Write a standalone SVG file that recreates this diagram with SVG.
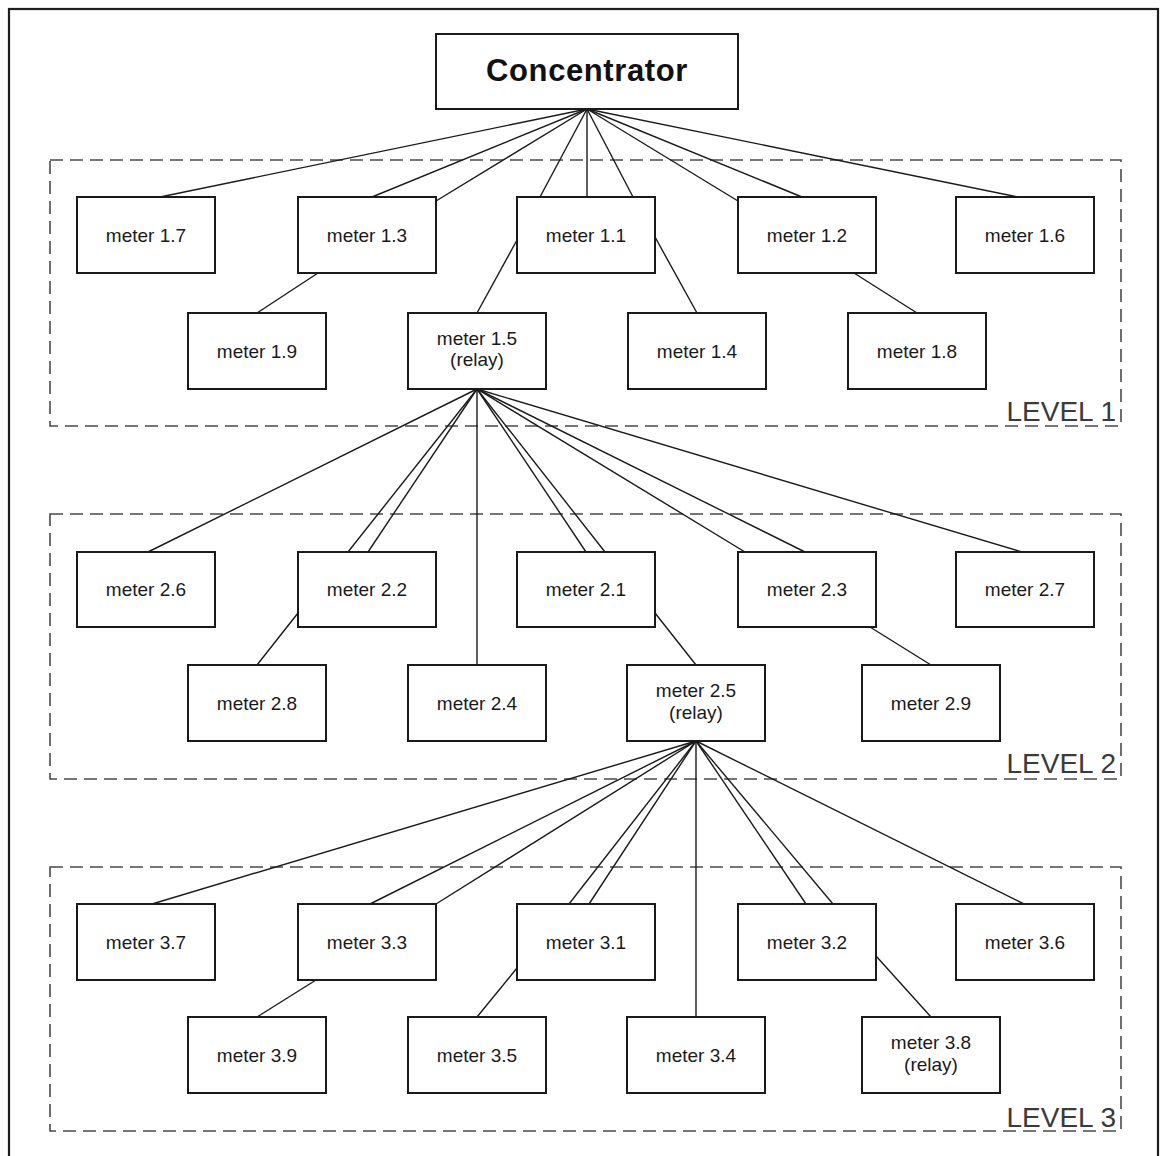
<svg xmlns="http://www.w3.org/2000/svg" width="1160" height="1156" viewBox="0 0 1160 1156">
  <style>
    .frame { fill: none; stroke: #1e1e1e; stroke-width: 2.2; }
    .level { fill: none; stroke: #4a4a4a; stroke-width: 1.6; stroke-dasharray: 13 7; }
    .level-label { font-family: "Liberation Sans", Arial, sans-serif; font-size: 28px; fill: #3a3a3a; text-anchor: end; }
    .box { fill: #ffffff; stroke: #1a1a1a; stroke-width: 2; }
    .label { font-family: "Liberation Sans", Arial, sans-serif; font-size: 19px; fill: #1a1a1a; text-anchor: middle; }
    .title { font-family: "Liberation Sans", Arial, sans-serif; font-size: 31px; font-weight: bold; fill: #111111; text-anchor: middle; letter-spacing: 0.6px; }
    .links line { stroke: #1a1a1a; stroke-width: 1.4; }
  </style>

  <rect width="1160" height="1156" fill="#ffffff"/>
  <!-- outer frame, open past the bottom edge -->
  <rect class="frame" x="9" y="9" width="1149" height="1160"/>

  <!-- level regions -->
  <g id="level-1">
    <rect class="level" x="50" y="160" width="1071" height="266"/>
    <text class="level-label" x="1116" y="421">LEVEL 1</text>
  </g>
  <g id="level-2">
    <rect class="level" x="50" y="514" width="1071" height="265"/>
    <text class="level-label" x="1116" y="773">LEVEL 2</text>
  </g>
  <g id="level-3">
    <rect class="level" x="50" y="867" width="1071" height="264"/>
    <text class="level-label" x="1116" y="1127">LEVEL 3</text>
  </g>

  <!-- connectors -->
  <g id="connectors" class="links">
    <!-- concentrator fan-out -->
    <line x1="587" y1="109" x2="160" y2="197"/>
    <line x1="587" y1="109" x2="372" y2="197"/>
    <line x1="587" y1="109" x2="436" y2="201"/>
    <line x1="587" y1="109" x2="540" y2="197"/>
    <line x1="587" y1="109" x2="587" y2="197"/>
    <line x1="587" y1="109" x2="633" y2="197"/>
    <line x1="587" y1="109" x2="738" y2="201"/>
    <line x1="587" y1="109" x2="802" y2="197"/>
    <line x1="587" y1="109" x2="1018" y2="197"/>
    <!-- level 1 internal -->
    <line x1="318" y1="273" x2="257" y2="313"/>
    <line x1="517" y1="240" x2="477" y2="313"/>
    <line x1="655" y1="237" x2="697" y2="313"/>
    <line x1="854" y1="273" x2="917" y2="313"/>
    <!-- relay 1.5 fan-out -->
    <line x1="477" y1="389" x2="148" y2="552"/>
    <line x1="477" y1="389" x2="348" y2="552"/>
    <line x1="477" y1="389" x2="368" y2="552"/>
    <line x1="477" y1="389" x2="477" y2="665"/>
    <line x1="477" y1="389" x2="586" y2="552"/>
    <line x1="477" y1="389" x2="605" y2="552"/>
    <line x1="477" y1="389" x2="745" y2="552"/>
    <line x1="477" y1="389" x2="805" y2="552"/>
    <line x1="477" y1="389" x2="1022" y2="552"/>
    <!-- level 2 internal -->
    <line x1="298" y1="613" x2="257" y2="665"/>
    <line x1="655" y1="613" x2="696" y2="665"/>
    <line x1="870" y1="627" x2="931" y2="665"/>
    <!-- relay 2.5 fan-out -->
    <line x1="696" y1="741" x2="152" y2="904"/>
    <line x1="696" y1="741" x2="370" y2="904"/>
    <line x1="696" y1="741" x2="436" y2="904"/>
    <line x1="696" y1="741" x2="569" y2="904"/>
    <line x1="696" y1="741" x2="589" y2="904"/>
    <line x1="696" y1="741" x2="696" y2="1017"/>
    <line x1="696" y1="741" x2="806" y2="904"/>
    <line x1="696" y1="741" x2="833" y2="904"/>
    <line x1="696" y1="741" x2="1024" y2="904"/>
    <!-- level 3 internal -->
    <line x1="316" y1="980" x2="257" y2="1017"/>
    <line x1="517" y1="968" x2="477" y2="1017"/>
    <line x1="876" y1="956" x2="931" y2="1017"/>
  </g>

  <!-- concentrator -->
  <g id="concentrator">
    <rect class="box" x="436" y="34" width="302" height="75"/>
    <text class="title" x="587" y="81">Concentrator</text>
  </g>

  <!-- level 1 meters -->
  <g id="meter-1-7"><rect class="box" x="77" y="197" width="138" height="76"/><text class="label" x="146" y="242">meter 1.7</text></g>
  <g id="meter-1-3"><rect class="box" x="298" y="197" width="138" height="76"/><text class="label" x="367" y="242">meter 1.3</text></g>
  <g id="meter-1-1"><rect class="box" x="517" y="197" width="138" height="76"/><text class="label" x="586" y="242">meter 1.1</text></g>
  <g id="meter-1-2"><rect class="box" x="738" y="197" width="138" height="76"/><text class="label" x="807" y="242">meter 1.2</text></g>
  <g id="meter-1-6"><rect class="box" x="956" y="197" width="138" height="76"/><text class="label" x="1025" y="242">meter 1.6</text></g>
  <g id="meter-1-9"><rect class="box" x="188" y="313" width="138" height="76"/><text class="label" x="257" y="358">meter 1.9</text></g>
  <g id="meter-1-5"><rect class="box" x="408" y="313" width="138" height="76"/><text class="label" x="477" y="345">meter 1.5</text><text class="label" x="477" y="366">(relay)</text></g>
  <g id="meter-1-4"><rect class="box" x="628" y="313" width="138" height="76"/><text class="label" x="697" y="358">meter 1.4</text></g>
  <g id="meter-1-8"><rect class="box" x="848" y="313" width="138" height="76"/><text class="label" x="917" y="358">meter 1.8</text></g>

  <!-- level 2 meters -->
  <g id="meter-2-6"><rect class="box" x="77" y="552" width="138" height="75"/><text class="label" x="146" y="596">meter 2.6</text></g>
  <g id="meter-2-2"><rect class="box" x="298" y="552" width="138" height="75"/><text class="label" x="367" y="596">meter 2.2</text></g>
  <g id="meter-2-1"><rect class="box" x="517" y="552" width="138" height="75"/><text class="label" x="586" y="596">meter 2.1</text></g>
  <g id="meter-2-3"><rect class="box" x="738" y="552" width="138" height="75"/><text class="label" x="807" y="596">meter 2.3</text></g>
  <g id="meter-2-7"><rect class="box" x="956" y="552" width="138" height="75"/><text class="label" x="1025" y="596">meter 2.7</text></g>
  <g id="meter-2-8"><rect class="box" x="188" y="665" width="138" height="76"/><text class="label" x="257" y="710">meter 2.8</text></g>
  <g id="meter-2-4"><rect class="box" x="408" y="665" width="138" height="76"/><text class="label" x="477" y="710">meter 2.4</text></g>
  <g id="meter-2-5"><rect class="box" x="627" y="665" width="138" height="76"/><text class="label" x="696" y="697">meter 2.5</text><text class="label" x="696" y="719">(relay)</text></g>
  <g id="meter-2-9"><rect class="box" x="862" y="665" width="138" height="76"/><text class="label" x="931" y="710">meter 2.9</text></g>

  <!-- level 3 meters -->
  <g id="meter-3-7"><rect class="box" x="77" y="904" width="138" height="76"/><text class="label" x="146" y="949">meter 3.7</text></g>
  <g id="meter-3-3"><rect class="box" x="298" y="904" width="138" height="76"/><text class="label" x="367" y="949">meter 3.3</text></g>
  <g id="meter-3-1"><rect class="box" x="517" y="904" width="138" height="76"/><text class="label" x="586" y="949">meter 3.1</text></g>
  <g id="meter-3-2"><rect class="box" x="738" y="904" width="138" height="76"/><text class="label" x="807" y="949">meter 3.2</text></g>
  <g id="meter-3-6"><rect class="box" x="956" y="904" width="138" height="76"/><text class="label" x="1025" y="949">meter 3.6</text></g>
  <g id="meter-3-9"><rect class="box" x="188" y="1017" width="138" height="76"/><text class="label" x="257" y="1062">meter 3.9</text></g>
  <g id="meter-3-5"><rect class="box" x="408" y="1017" width="138" height="76"/><text class="label" x="477" y="1062">meter 3.5</text></g>
  <g id="meter-3-4"><rect class="box" x="627" y="1017" width="138" height="76"/><text class="label" x="696" y="1062">meter 3.4</text></g>
  <g id="meter-3-8"><rect class="box" x="862" y="1017" width="138" height="76"/><text class="label" x="931" y="1049">meter 3.8</text><text class="label" x="931" y="1071">(relay)</text></g>
</svg>
